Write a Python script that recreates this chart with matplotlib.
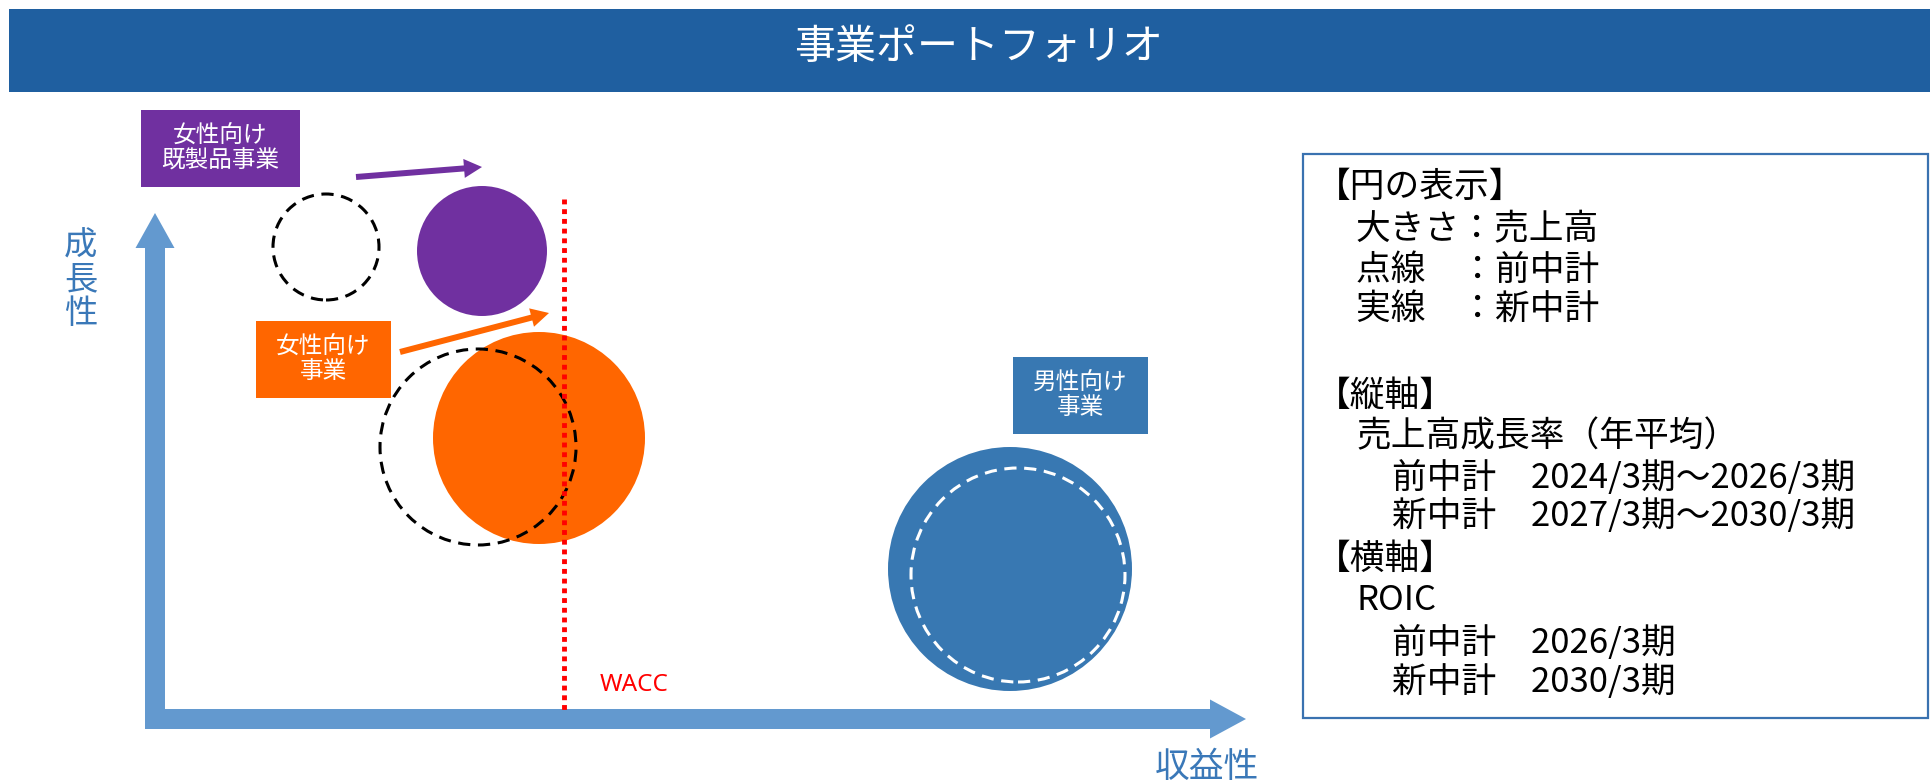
import matplotlib.pyplot as plt
from matplotlib.patches import Circle, Rectangle

plt.rcParams['font.family'] = ['Noto Sans CJK JP', 'DejaVu Sans']

# Business segments: ROIC (x), sales growth (y), sales size (radius), arbitrary units
segments = ['女性向け\n既製品事業', '女性向け\n事業', '男性向け\n事業']
colors = ['#7030A0', '#FF6600', '#3878B2']
roic_prev = [17.1, 32.3, 86.3]
growth_prev = [47.2, 27.2, 14.4]
size_prev = [5.3, 9.8, 10.7]
roic_new = [32.7, 38.4, 85.5]
growth_new = [46.8, 28.1, 15.0]
size_new = [6.5, 10.6, 12.2]
wacc = 40.85

title = '事業ポートフォリオ'
legend_lines = ['【円の表示】', ' 大きさ：売上高', ' 点線　：前中計', ' 実線　：新中計',
                '【縦軸】', ' 売上高成長率（年平均）', '  前中計　2024/3期～2026/3期',
                '  新中計　2027/3期～2030/3期', '【横軸】', ' ROIC',
                '  前中計　2026/3期', '  新中計　2030/3期']
legend_rows = [187, 230, 270, 309, 396, 437, 478, 516, 559, 601, 643, 682]

W, H = 1930, 782
fig = plt.figure(figsize=(W / 100, H / 100), dpi=100)
ax = fig.add_axes([0, 0, 1, 1])
# 1 unit = 10 px, origin where the two axis arrows cross
ox, oy = 155, 719
ax.set_xlim(-ox / 10, (W - ox) / 10)
ax.set_ylim(-(H - oy) / 10, oy / 10)
ax.axis('off')


def fx(px):
    return (px - ox) / 10


def fy(py):
    return (oy - py) / 10


# Header band
fig.patches.append(Rectangle((9 / W, 1 - 92 / H), 1 - 9 / W, 83 / H, transform=fig.transFigure,
                             facecolor='#1F5FA0', edgecolor='none'))
fig.text(979 / W, 1 - 47 / H, title, color='white', fontsize=29.5, ha='center', va='center')

# Axis arrows
axis_color = '#6399CF'
ax.arrow(-1.0, 0, 110.1, 0, width=2.0, head_width=3.9, head_length=3.6,
         length_includes_head=True, color=axis_color, linewidth=0)
ax.arrow(0, -1.0, 0, 51.6, width=2.0, head_width=3.9, head_length=3.5,
         length_includes_head=True, color=axis_color, linewidth=0)

label_color = '#3A78B8'
for i, ch in enumerate('成長性'):
    ax.text(-7.45, 47.3 - i * 3.35, ch, color=label_color, fontsize=24, ha='center', va='center')
ax.text(105.2, -4.8, '収益性', color=label_color, fontsize=25, ha='center', va='center')

# Bubbles: new plan solid, previous plan dashed
for i in range(len(segments)):
    ax.add_patch(Circle((roic_new[i], growth_new[i]), size_new[i],
                        facecolor=colors[i], edgecolor='none', zorder=2))
for i in range(len(segments)):
    dash_color = 'white' if i == 2 else 'black'
    ax.add_patch(Circle((roic_prev[i], growth_prev[i]), size_prev[i], facecolor='none',
                        edgecolor=dash_color, linewidth=2.2, linestyle=(0, (4, 2.5)), zorder=3))

# Movement arrows for women's segments
moves = [((20.1, 54.2), (32.7, 55.2)), ((24.5, 36.7), (39.4, 40.6))]
for (start, end), c in zip(moves, colors[:2]):
    ax.arrow(start[0], start[1], end[0] - start[0], end[1] - start[1], width=0.6,
             head_width=1.9, head_length=1.8, length_includes_head=True,
             color=c, linewidth=0, zorder=4)

# Segment label boxes
label_boxes = [(6.55, 57.05, 15.9), (16.85, 35.95, 13.5), (92.55, 32.35, 13.5)]
for (cx, cy, w), c, name in zip(label_boxes, colors, segments):
    ax.add_patch(Rectangle((cx - w / 2, cy - 3.85), w, 7.7, facecolor=c, edgecolor='none', zorder=4))
    ax.text(cx, cy, name, color='white', fontsize=17, ha='center', va='center',
            linespacing=1.1, zorder=5)

# WACC line
ax.plot([wacc, wacc], [fy(199), fy(712)], color='red', linewidth=3.5,
        linestyle=(0, (1, 1)), zorder=5)
ax.text(fx(600), fy(685), 'WACC', color='red', fontsize=17.5, ha='left', va='center',
        family=['Noto Sans', 'DejaVu Sans'])

# Explanation box
ax.add_patch(Rectangle((fx(1303), fy(718)), (1928 - 1303) / 10, (718 - 154) / 10,
                       facecolor='none', edgecolor='#3A72B0', linewidth=1.6))
for line, row in zip(legend_lines, legend_rows):
    indent = len(line) - len(line.lstrip(' '))
    x0 = [1316, 1356, 1392][indent]
    ax.text(fx(x0), fy(row), line.strip(), color='black', fontsize=25,
            ha='left', va='center')

fig.savefig('out.png', dpi=100)
